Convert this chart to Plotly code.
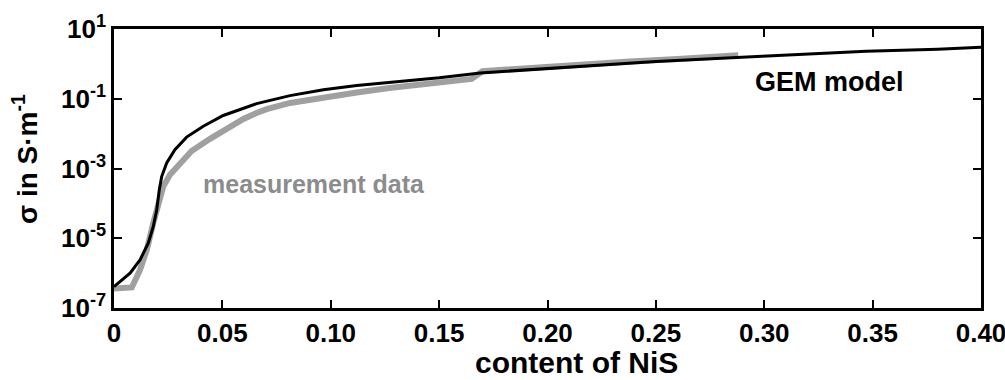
import plotly.graph_objects as go

# GEM model (black) – content of NiS vs log10(sigma)
gem_x = [0, 0.0074, 0.012, 0.0158, 0.0181, 0.0197, 0.0209, 0.0220, 0.0243, 0.0281,
         0.0335, 0.0412, 0.0504, 0.0597, 0.0658, 0.0812, 0.0966, 0.112, 0.127,
         0.15, 0.169, 0.2, 0.224, 0.25, 0.299, 0.347, 0.38, 0.395, 0.4]
gem_log = [-6.39, -6.0, -5.62, -5.14, -4.67, -4.19, -3.61, -3.23, -2.84, -2.46,
           -2.1, -1.79, -1.48, -1.28, -1.14, -0.91, -0.74, -0.62, -0.54,
           -0.40, -0.26, -0.13, -0.02, 0.07, 0.22, 0.36, 0.42, 0.45, 0.48]

# measurement data (grey)
meas_x = [0, 0.0082, 0.012, 0.0151, 0.0181, 0.0204, 0.0227, 0.0258, 0.0305, 0.0358,
          0.0443, 0.052, 0.0597, 0.066, 0.0705, 0.0812, 0.0966, 0.112, 0.127, 0.15, 0.165,
          0.170, 0.2, 0.224, 0.238, 0.26, 0.288]
meas_log = [-6.44, -6.41, -5.91, -5.34, -4.57, -4.0, -3.52, -3.18, -2.84, -2.5,
            -2.15, -1.84, -1.58, -1.40, -1.30, -1.12, -0.95, -0.82, -0.69, -0.54, -0.43,
            -0.21, -0.08, 0.05, 0.07, 0.14, 0.25]

x_ticks = [0, 0.05, 0.10, 0.15, 0.20, 0.25, 0.30, 0.35, 0.40]
x_ticktext = ["0", "0.05", "0.10", "0.15", "0.20", "0.25", "0.30", "0.35", "0.40"]
y_exps = [-7, -5, -3, -1, 1]

gem_y = [10 ** v for v in gem_log]
meas_y = [10 ** v for v in meas_log]

FONT = "Liberation Sans, Arial, sans-serif"

fig = go.Figure()
fig.add_trace(go.Scatter(x=meas_x, y=meas_y, mode="lines",
                         line=dict(color="#a0a0a0", width=6), showlegend=False))
fig.add_trace(go.Scatter(x=gem_x, y=gem_y, mode="lines",
                         line=dict(color="#000000", width=3), showlegend=False))

fig.add_annotation(x=0.0925, y=-3.43, xref="x", yref="y", text="<b>measurement data</b>",
                   showarrow=False, font=dict(family=FONT, size=25, color="#8c8c8c"))
fig.add_annotation(x=0.3302, y=-0.52, xref="x", yref="y", text="<b>GEM model</b>",
                   showarrow=False, font=dict(family=FONT, size=27, color="#000000"))

# axis titles as paper-positioned annotations
fig.add_annotation(x=(576 - 114) / 867, y=-(362 - 308) / 279, xref="paper", yref="paper",
                   text="<b>content of NiS</b>", showarrow=False,
                   xanchor="center", yanchor="middle",
                   font=dict(family=FONT, size=30, color="black"))
fig.add_annotation(x=-(114 - 25) / 867, y=(308 - 159) / 279, xref="paper", yref="paper",
                   text="<b>σ in S·m<sup>-1</sup></b>", showarrow=False, textangle=-90,
                   xanchor="center", yanchor="middle",
                   font=dict(family=FONT, size=28, color="black"))

axis_common = dict(showline=True, linecolor="black", linewidth=2.5, mirror="ticks",
                   ticks="inside", ticklen=8, tickwidth=2, tickcolor="black",
                   showgrid=False, zeroline=False, ticklabeloverflow="allow",
                   automargin=False)

fig.update_xaxes(range=[0, 0.4], tickvals=x_ticks, ticktext=x_ticktext,
                 tickfont=dict(family=FONT, size=26, color="black", weight="bold"),
                 **axis_common)
fig.update_yaxes(type="log", range=[-7, 1], tickvals=[10 ** e for e in y_exps],
                 ticktext=["10<sup>%d</sup>" % e for e in y_exps],
                 tickfont=dict(family=FONT, size=26, color="black", weight="bold"),
                 **axis_common)

fig.update_layout(width=1005, height=380, margin=dict(l=114, r=24, t=29, b=72),
                  plot_bgcolor="white", paper_bgcolor="white")

fig.write_html("out.html")
